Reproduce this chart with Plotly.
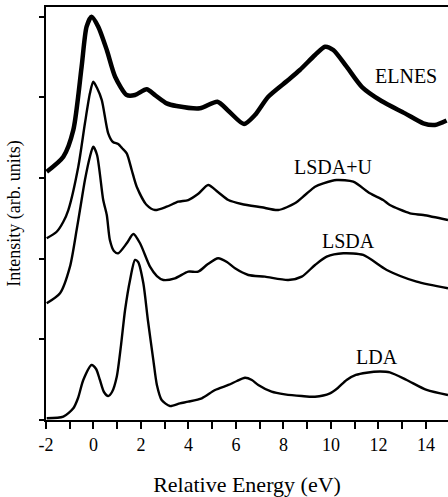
import plotly.graph_objects as go

# ---- data ----
elnes_E = [-1.97, -1.27, -0.85, -0.50, -0.29, -0.08, 0.20, 0.56, 0.91, 1.40, 1.75, 2.24, 2.59, 3.08, 3.50,
           4.48, 5.22, 5.71, 6.34, 6.80, 7.36, 8.20, 8.69, 9.33, 9.75, 10.10, 10.66, 11.31, 12.13, 13.12,
           13.89, 14.38, 14.87]
elnes_I = [3.077, 3.263, 3.594, 4.378, 4.874, 4.998, 4.874, 4.585, 4.254, 4.027, 4.027, 4.098, 4.027, 3.924, 3.891,
           3.862, 3.944, 3.823, 3.668, 3.779, 4.006, 4.213, 4.337, 4.523, 4.626, 4.585, 4.378, 4.126, 3.953, 3.800,
           3.677, 3.656, 3.711]

lsdau_E = [-1.97, -1.55, -1.27, -1.06, -0.64, -0.36, -0.15, -0.01, 0.15, 0.35, 0.62, 0.82, 1.04, 1.20, 1.40,
           1.61, 1.82, 2.24, 2.59, 3.08, 3.57, 3.99, 4.40, 4.83, 5.24, 5.68, 6.24, 7.08, 7.78, 8.48, 8.91,
           9.33, 9.68, 10.24, 10.94, 11.64, 12.20, 12.48, 13.33, 13.89, 14.93]
lsdau_I = [2.252, 2.333, 2.457, 2.602, 3.139, 3.677, 4.048, 4.192, 4.114, 3.965, 3.553, 3.445, 3.420, 3.371, 3.305,
           3.098, 2.891, 2.664, 2.602, 2.643, 2.705, 2.726, 2.800, 2.912, 2.825, 2.726, 2.677, 2.636, 2.602, 2.685, 2.788,
           2.891, 2.933, 2.974, 2.953, 2.809, 2.726, 2.664, 2.561, 2.540, 2.478]

lsda_E = [-1.97, -1.41, -0.99, -0.71, -0.57, -0.36, -0.15, -0.01, 0.15, 0.41, 0.56, 0.69, 0.86, 1.04, 1.40,
          1.68, 1.96, 2.38, 2.67, 2.94, 3.43, 3.99, 4.41, 4.82, 5.25, 5.62, 5.96, 6.52, 7.22, 8.20, 8.77,
          9.33, 9.82, 10.52, 11.36, 12.35, 13.61, 14.93]
lsda_I = [1.446, 1.570, 1.900, 2.354, 2.602, 2.974, 3.263, 3.387, 3.284, 2.726, 2.540, 2.230, 2.094, 2.066, 2.190,
          2.305, 2.190, 1.900, 1.784, 1.735, 1.756, 1.838, 1.838, 1.933, 2.004, 1.958, 1.880, 1.797, 1.776, 1.735, 1.776,
          1.921, 2.024, 2.066, 2.045, 1.859, 1.714, 1.632]

lda_E = [-1.97, -1.27, -0.85, -0.65, -0.43, -0.08, 0.11, 0.27, 0.44, 0.62, 0.78, 0.98, 1.16, 1.33, 1.54, 1.75,
         1.88, 2.10, 2.29, 2.52, 2.67, 2.87, 3.22, 3.64, 3.99, 4.56, 5.12, 5.68, 6.04, 6.38, 6.67, 6.94, 7.50,
         8.06, 8.77, 9.33, 9.96, 10.29, 10.66, 11.05, 11.50, 12.06, 12.48, 13.19, 14.03, 14.93]
lda_I = [0.021, 0.041, 0.145, 0.273, 0.496, 0.682, 0.632, 0.496, 0.347, 0.297, 0.347, 0.537, 0.929, 1.363, 1.735, 1.983,
         1.958, 1.694, 1.239, 0.743, 0.434, 0.248, 0.173, 0.207, 0.227, 0.269, 0.372, 0.434, 0.483, 0.524, 0.496, 0.434, 0.351,
         0.318, 0.297, 0.289, 0.331, 0.397, 0.496, 0.558, 0.586, 0.601, 0.591, 0.496, 0.372, 0.310]

series_names = ["ELNES", "LSDA+U", "LSDA", "LDA"]
label_E = [13.18, 10.11, 10.73, 11.92]
label_I = [4.263, 3.135, 2.222, 0.781]

x_tickvals = list(range(-2, 15))
x_ticktext = [str(v) if v % 2 == 0 else "" for v in x_tickvals]
y_tickvals = [0, 1, 2, 3, 4, 5]

FONT = "Liberation Serif, Times New Roman, DejaVu Serif, serif"

fig = go.Figure()
curves = [(elnes_E, elnes_I, 4.5), (lsdau_E, lsdau_I, 2.4), (lsda_E, lsda_I, 2.4), (lda_E, lda_I, 2.4)]
for (xs, ys, w), name in zip(curves, series_names):
    fig.add_trace(go.Scatter(x=xs, y=ys, mode="lines", name=name,
                             line=dict(color="black", width=w, shape="spline", smoothing=0.7),
                             showlegend=False, hoverinfo="skip"))

for name, ex, iy in zip(series_names, label_E, label_I):
    fig.add_annotation(x=ex, y=iy, text=name, showarrow=False,
                       font=dict(family=FONT, size=20, color="black"),
                       xanchor="center", yanchor="middle")

fig.update_layout(
    width=448, height=497,
    margin=dict(l=46, r=0, t=7, b=77, autoexpand=False),
    paper_bgcolor="white", plot_bgcolor="white",
    font=dict(family=FONT, color="black"),
    xaxis=dict(range=[-2, 14.93], tickvals=x_tickvals, ticktext=x_ticktext,
               ticks="outside", ticklen=7, tickwidth=2, tickcolor="black",
               showline=True, linewidth=2, linecolor="black", mirror=True,
               showgrid=False, zeroline=False, automargin=False,
               tickfont=dict(family=FONT, size=18, color="black"),
               title=dict(text="Relative Energy (eV)", font=dict(family=FONT, size=22, color="black"),
                          standoff=28)),
    yaxis=dict(range=[0, 5.118], tickvals=y_tickvals, showticklabels=False,
               ticks="outside", ticklen=5, tickwidth=2, tickcolor="black",
               showline=True, linewidth=2, linecolor="black",
               showgrid=False, zeroline=False, automargin=False,
               title=dict(text="Intensity (arb. units)", font=dict(family=FONT, size=18, color="black"),
                          standoff=14)),
)

fig.write_html("out.html", post_script="document.body.style.margin='0';",
               config={"displayModeBar": False})
